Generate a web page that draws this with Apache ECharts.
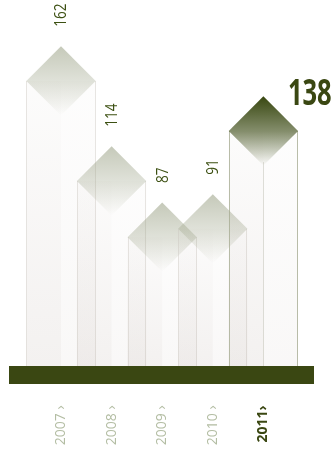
<!DOCTYPE html>
<html>
<head>
<meta charset="utf-8">
<script src="https://cdn.jsdelivr.net/npm/echarts@6/dist/echarts.min.js"></script>
<style>
  html, body { margin: 0; padding: 0; background: #ffffff; }
  #chart { width: 335px; height: 449px; }
</style>
</head>
<body>
<div id="chart"></div>
<script>
// Yearly figures, 2007–2011
const years = ['2007', '2008', '2009', '2010', '2011'];
const values = [162, 114, 87, 91, 138];
const highlightYear = '2011';

const yMin = 25;
const yMax = 185;

const OLIVE = '#3a4712';
const LABEL_GREEN = '#3c5012';
const YEAR_GREY = '#b3bda3';
const FONT = '"Open Sans", "DejaVu Sans", sans-serif';

const chart = echarts.init(document.getElementById('chart'), null, { renderer: 'canvas' });

function grad(stops) {
  return new echarts.graphic.LinearGradient(0, 0, 0, 1, stops);
}

function renderColumn(params, api) {
  const idx = api.value(0);
  const val = api.value(1);
  const top = api.coord([idx, val]);
  const base = api.coord([idx, yMin]);
  const hw = api.size([1, 0])[0] * 0.685;
  const cx = top[0];
  const ty = top[1];
  const by = base[1];
  const hi = years[idx] === highlightYear;
  const xl = Math.round(cx - hw) + 0.5;
  const xr = Math.round(cx + hw) - 0.5;
  const edge = hi ? 'rgba(168,172,148,0.8)' : 'rgba(205,200,192,0.45)';

  const children = [
    // left face
    {
      type: 'rect',
      shape: { x: cx - hw, y: ty, width: hw, height: by - ty },
      style: {
        fill: grad([
          { offset: 0, color: 'rgba(185,172,165,0.04)' },
          { offset: 1, color: 'rgba(185,172,165,0.17)' }
        ])
      }
    },
    // right face
    {
      type: 'rect',
      shape: { x: cx, y: ty, width: hw, height: by - ty },
      style: {
        fill: grad([
          { offset: 0, color: 'rgba(200,190,185,0.03)' },
          { offset: 1, color: 'rgba(200,190,185,0.11)' }
        ])
      }
    },
    // side edges
    {
      type: 'line',
      shape: { x1: xl, y1: ty, x2: xl, y2: by },
      style: { stroke: edge, lineWidth: 1 }
    },
    {
      type: 'line',
      shape: { x1: xr, y1: ty, x2: xr, y2: by },
      style: { stroke: edge, lineWidth: 1 }
    }
  ];

  if (hi) {
    children.push({
      type: 'line',
      shape: { x1: Math.round(cx) + 0.5, y1: ty + hw * 0.9, x2: Math.round(cx) + 0.5, y2: by },
      style: { stroke: 'rgba(185,185,170,0.45)', lineWidth: 1 }
    });
  }

  // diamond cap
  children.push({
    type: 'polygon',
    shape: {
      points: [[cx, ty - hw], [cx + hw, ty], [cx, ty + hw], [cx - hw, ty]]
    },
    style: {
      fill: hi
        ? grad([
            { offset: 0, color: 'rgba(56,71,16,1)' },
            { offset: 0.5, color: 'rgba(56,71,16,0.62)' },
            { offset: 1, color: 'rgba(56,71,16,0)' }
          ])
        : grad([
            { offset: 0, color: 'rgba(150,157,128,0.55)' },
            { offset: 0.5, color: 'rgba(150,157,128,0.3)' },
            { offset: 1, color: 'rgba(150,157,128,0)' }
          ])
    }
  });

  // value label
  if (hi) {
    children.push({
      type: 'text',
      x: cx + 24.5,
      y: ty - hw - 1.5,
      scaleX: 0.73,
      style: {
        text: String(val),
        fill: OLIVE,
        font: 'bold 35px ' + FONT,
        align: 'left',
        verticalAlign: 'middle'
      }
    });
  } else {
    children.push({
      type: 'text',
      x: cx + 0.5,
      y: ty - hw - 19.5,
      rotation: Math.PI / 2,
      scaleX: 0.8,
      style: {
        text: String(val),
        fill: LABEL_GREEN,
        font: '17px ' + FONT,
        align: 'left',
        verticalAlign: 'middle'
      }
    });
  }

  return { type: 'group', children: children };
}

chart.setOption({
  animation: false,
  backgroundColor: '#ffffff',
  grid: { left: 35.7, right: 46.3, top: 33, bottom: 82.6 },
  xAxis: {
    type: 'category',
    data: years,
    axisLine: { show: false },
    axisTick: { show: false },
    splitLine: { show: false },
    axisLabel: {
      rotate: 90,
      margin: 39,
      formatter: function (v) {
        return v === highlightYear ? '{hi|' + v + '›}' : '{lo|' + v + ' ›}';
      },
      rich: {
        lo: { fontFamily: FONT, fontSize: 14, color: YEAR_GREY },
        hi: { fontFamily: FONT, fontSize: 14, fontWeight: 'bold', color: OLIVE }
      }
    }
  },
  yAxis: {
    type: 'value',
    min: yMin,
    max: yMax,
    show: false,
    splitLine: { show: false }
  },
  series: [
    {
      type: 'custom',
      renderItem: renderColumn,
      encode: { x: 0, y: 1 },
      clip: false,
      data: values.map(function (v, i) { return [i, v]; })
    }
  ],
  graphic: [
    {
      type: 'rect',
      z: 100,
      shape: { x: 9, y: 366, width: 305, height: 18 },
      style: { fill: OLIVE }
    }
  ]
});
</script>
</body>
</html>
